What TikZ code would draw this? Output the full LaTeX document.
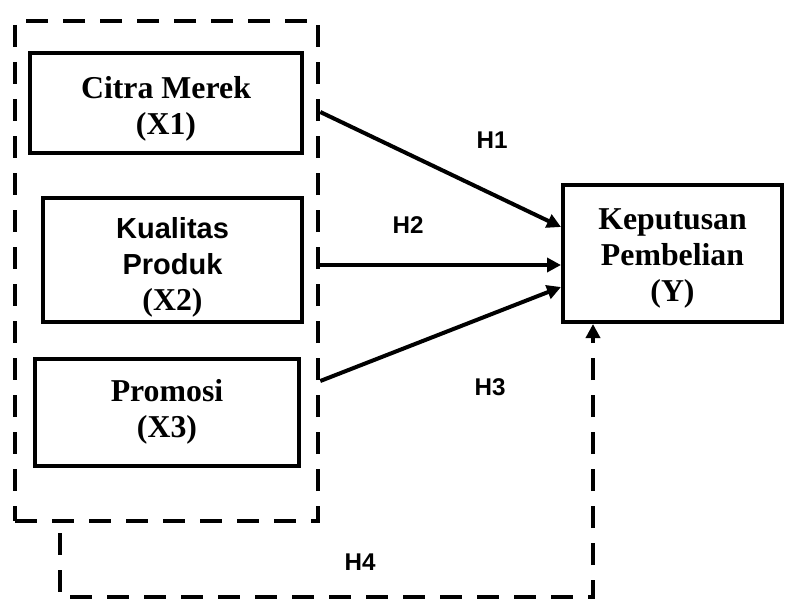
\documentclass[tikz,border=0pt]{standalone}
\usepackage{fontspec}
\setmainfont{Liberation Serif}
\newfontfamily\arialfont{Liberation Sans}
\usetikzlibrary{arrows.meta, positioning, calc}

\begin{document}
\begin{tikzpicture}[
    x=0.5pt, y=-0.5pt,
    every node/.style={align=center, inner sep=0pt},
    box/.style={rectangle, draw, line width=2pt, font=\bfseries\fontsize{15.9}{18}\selectfont},
    dashgroup/.style={rectangle, draw, line width=2.3pt, dash pattern=on 11pt off 7.5pt},
    arrow/.style={-{Triangle[length=7pt, width=7pt]}, line width=2pt},
    dasharrow/.style={arrow, line width=2.3pt, dash pattern=on 11pt off 7.5pt},
    hlabel/.style={font=\arialfont\bfseries\fontsize{12.1}{14}\selectfont}
]
    \useasboundingbox (0,0) rectangle (785,599);

    \node[dashgroup, minimum width=151.5pt, minimum height=250pt] (grp) at (166.5,271) {};
    \node[box, minimum width=136pt, minimum height=50pt] (citra) at (166,103) {\rule{0pt}{16.8pt}Citra Merek\\(X1)};
    \node[box, minimum width=129.5pt, minimum height=62pt] (kualitas) at (172.5,260)
        {{\arialfont\fontsize{14.5}{18}\selectfont\rule{0pt}{17.4pt}Kualitas}\\{\arialfont\fontsize{14.5}{18}\selectfont Produk}\\(X2)};
    \node[box, minimum width=132pt, minimum height=53.5pt] (promosi) at (167,412) {Promosi\\(X3)};
    \node[box, minimum width=109.5pt, minimum height=68.5pt] (keputusan) at (672.5,253.5) {\rule{0pt}{15.5pt}Keputusan\\Pembelian\\(Y)};

    \coordinate (h4start) at (60,533);

    \draw[arrow] (grp.east |- 0,112) -- (keputusan.west |- 0,227);
    \draw[arrow] (grp.east |- 0,265) -- (keputusan.west |- 0,265);
    \draw[arrow] (grp.east |- 0,381) -- (keputusan.west |- 0,287);
    \draw[dasharrow] (h4start) |- (593,597) -- (keputusan.south -| 593,0);

    \node[hlabel] (h1) at (492,140) {H1};
    \node[hlabel] (h2) at (408,225) {H2};
    \node[hlabel] (h3) at (490,387) {H3};
    \node[hlabel] (h4) at (360,562) {H4};
\end{tikzpicture}
\end{document}
